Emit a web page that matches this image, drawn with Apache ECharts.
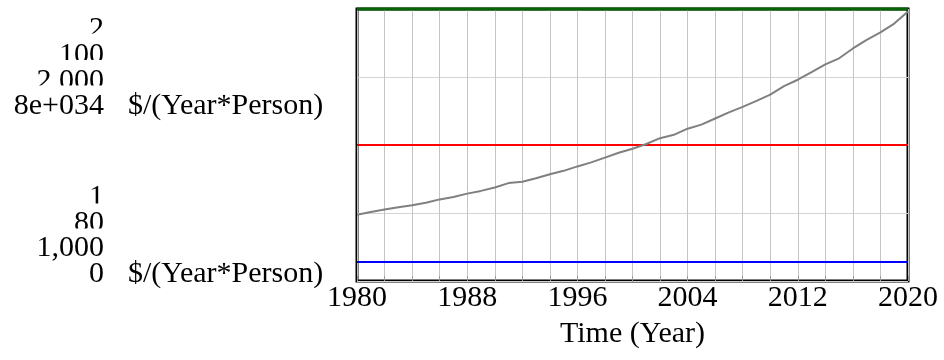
<!DOCTYPE html>
<html>
<head>
<meta charset="utf-8">
<script src="https://cdn.jsdelivr.net/npm/echarts@6/dist/echarts.min.js"></script>
<style>
html,body{margin:0;padding:0;background:#fff;}
#chart{width:944px;height:360px;}
</style>
</head>
<body>
<div id="chart"></div>
<script>
// ---- data ----
const years = [1980,1981,1982,1983,1984,1985,1986,1987,1988,1989,1990,1991,1992,1993,1994,1995,1996,1997,1998,1999,2000,2001,2002,2003,2004,2005,2006,2007,2008,2009,2010,2011,2012,2013,2014,2015,2016,2017,2018,2019,2020];
const grayValues = [1.95e34,2.03e34,2.10e34,2.17e34,2.23e34,2.30e34,2.40e34,2.47e34,2.57e34,2.65e34,2.75e34,2.88e34,2.92e34,3.02e34,3.14e34,3.24e34,3.37e34,3.49e34,3.63e34,3.77e34,3.89e34,4.03e34,4.20e34,4.30e34,4.48e34,4.60e34,4.78e34,4.96e34,5.12e34,5.30e34,5.48e34,5.73e34,5.92e34,6.14e34,6.37e34,6.55e34,6.84e34,7.09e34,7.31e34,7.57e34,7.93e34];
const blueValue = 1.07;
const redValue = 90;
const greenValue = 2000;
const scaleMin = [1, 80, 1000, 0];
const scaleMax = [2, 100, 2000, 8e34];
const topLabels = ["2", "100", "2,000", "8e+034"];
const bottomLabels = ["1", "80", "1,000", "0"];
const unitLabel = "$/(Year*Person)";
const xTickLabels = ["1980","1988","1996","2004","2012","2020"];
const xName = "Time (Year)";

const font = '30px "Liberation Serif"';
const chart = echarts.init(document.getElementById('chart'));

const constSeries = (v) => years.map(y => [y, v]);

// left stacked scale labels
const graphic = [];
const topCenters = [29.5, 55.2, 80.8, 106.5];
const topClip = [33.5, 60, 85.5];
const botCenters = [197, 222.7, 248.3, 274];
const botClip = [203.5, 228.5];
function addGroup(labels, centers, clips, zBase) {
  labels.forEach((t, i) => {
    graphic.push({type:'text', z: zBase + i*2, style:{text:t, x:104, y:centers[i], font:font, fill:'#000', textAlign:'right', textVerticalAlign:'middle'}});
    if (i < clips.length) {
      graphic.push({type:'rect', z: zBase + i*2 + 1, shape:{x:0, y:clips[i], width:112, height:(centers[i]+14) - clips[i] + 2}, style:{fill:'#fff'}});
    }
  });
  graphic.push({type:'text', z: zBase + 10, style:{text:unitLabel, x:128, y:centers[centers.length-1], font:font, fill:'#000', textAlign:'left', textVerticalAlign:'middle'}});
}
addGroup(topLabels, topCenters, topClip, 10);
addGroup(bottomLabels, botCenters, botClip, 30);

const yAxes = scaleMin.map((mn, i) => ({
  type:'value', min:mn, max:scaleMax[i], show: i === 0,
  interval: (scaleMax[i]-mn)/4,
  axisLine:{show:false}, axisTick:{show:false}, axisLabel:{show:false},
  splitLine:{show: i === 0, lineStyle:{color:'#d4d4d4', width:1}}
}));

chart.setOption({
  animation:false,
  backgroundColor:'#fff',
  grid:{left:357, right:36, top:9, bottom:79, outerBoundsMode:'none', containLabel:false, show:true, borderColor:'#000', borderWidth:3, backgroundColor:'transparent'},
  xAxis:{
    type:'value', min:1980, max:2020, interval:8,
    name:xName, nameLocation:'middle', nameGap:38,
    nameTextStyle:{fontFamily:'Liberation Serif', fontSize:30, color:'#000'},
    axisLine:{show:false},
    axisTick:{show:true, inside:true, length:5, lineStyle:{color:'#999'}},
    minorTick:{show:true, splitNumber:4, length:5, lineStyle:{color:'#999'}},
    axisLabel:{fontFamily:'Liberation Serif', fontSize:30, color:'#000', margin:2,
      formatter:(v)=> xTickLabels.includes(String(v)) ? String(v) : ''},
    splitLine:{show:true, lineStyle:{color:'#c4c4c4', width:1}},
    minorSplitLine:{show:true, lineStyle:{color:'#c4c4c4', width:1}}
  },
  yAxis:yAxes,
  graphic:graphic,
  series:[
    {type:'line', yAxisIndex:0, data:constSeries(blueValue), showSymbol:false, lineStyle:{color:'#0000ff', width:2}, z:3},
    {type:'line', yAxisIndex:1, data:constSeries(redValue), showSymbol:false, lineStyle:{color:'#ff0000', width:2}, z:3},
    {type:'line', yAxisIndex:2, data:constSeries(greenValue), showSymbol:false, clip:false, lineStyle:{color:'#006400', width:3}, z:4},
    {type:'line', yAxisIndex:3, data:years.map((y,i)=>[y, grayValues[i]]), showSymbol:false, lineStyle:{color:'#808080', width:2}, z:3}
  ]
});
</script>
</body>
</html>
